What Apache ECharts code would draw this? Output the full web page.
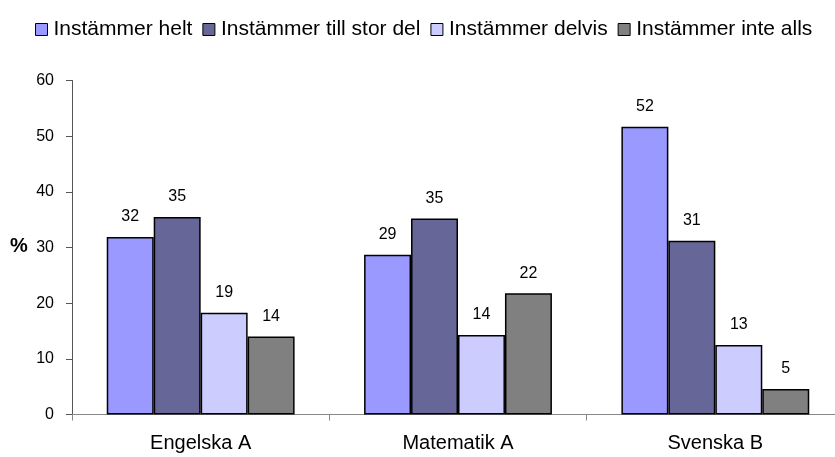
<!DOCTYPE html>
<html><head><meta charset="utf-8">
<script src="https://cdn.jsdelivr.net/npm/echarts@6/dist/echarts.min.js"></script>
<style>html,body{margin:0;padding:0;background:#fff}#c{width:835px;height:457px}</style>
</head><body><div id="c"></div>
<script>
const categories = ['Engelska A', 'Matematik A', 'Svenska B'];
const seriesNames = ['Instämmer helt', 'Instämmer till stor del', 'Instämmer delvis', 'Instämmer inte alls'];
const helt = [31.9, 28.7, 51.7];
const storDel = [35.5, 35.2, 31.2];
const delvis = [18.3, 14.3, 12.5];
const inteAlls = [14.0, 21.8, 4.6];
const heltLabels = ['32', '29', '52'];
const storDelLabels = ['35', '35', '31'];
const delvisLabels = ['19', '14', '13'];
const inteAllsLabels = ['14', '22', '5'];
const yTicks = [0, 10, 20, 30, 40, 50, 60];
const colors = ['#9999FF', '#666699', '#CCCCFF', '#808080'];

const values = [helt, storDel, delvis, inteAlls];
const labels = [heltLabels, storDelLabels, delvisLabels, inteAllsLabels];
const FONT = 'Liberation Sans, Arial, sans-serif';

const chart = echarts.init(document.getElementById('c'), null, {renderer: 'canvas'});
chart.setOption({
  animation: false,
  backgroundColor: '#fff',
  textStyle: {fontFamily: FONT},
  legend: {
    top: 14, left: 30,
    itemWidth: 12, itemHeight: 12, itemGap: 10,
    icon: 'rect',
    itemStyle: {borderColor: '#000', borderWidth: 1},
    textStyle: {fontSize: 21, color: '#000', padding: [0, 0, 0, 1]},
    data: seriesNames
  },
  grid: {left: 72, width: 772, top: 80.5, bottom: 42.5, containLabel: false, outerBoundsMode: 'none'},
  xAxis: {
    type: 'category', data: categories,
    axisLine: {lineStyle: {color: '#888', width: 1}},
    axisTick: {show: true, length: 6, lineStyle: {color: '#888'}},
    axisLabel: {fontSize: 20, color: '#000', margin: 19}
  },
  yAxis: {
    type: 'value', min: yTicks[0], max: yTicks[yTicks.length - 1], interval: 10,
    axisLine: {show: true, lineStyle: {color: '#555'}},
    axisTick: {show: true, length: 6, lineStyle: {color: '#555'}},
    splitLine: {show: false},
    axisLabel: {fontSize: 16, color: '#000', margin: 18}
  },
  graphic: [{
    type: 'text', left: 10, top: 236,
    style: {text: '%', font: 'bold 20px ' + FONT, fill: '#000'}
  }],
  series: seriesNames.map((n, i) => ({
    name: n, type: 'bar',
    data: values[i],
    barGap: '0%', barCategoryGap: '27%',
    itemStyle: {color: colors[i], borderColor: '#000', borderWidth: 1.5},
    label: {
      show: true, position: 'top', distance: 12, fontSize: 16, color: '#000',
      formatter: p => labels[i][p.dataIndex]
    }
  }))
});
</script></body></html>
